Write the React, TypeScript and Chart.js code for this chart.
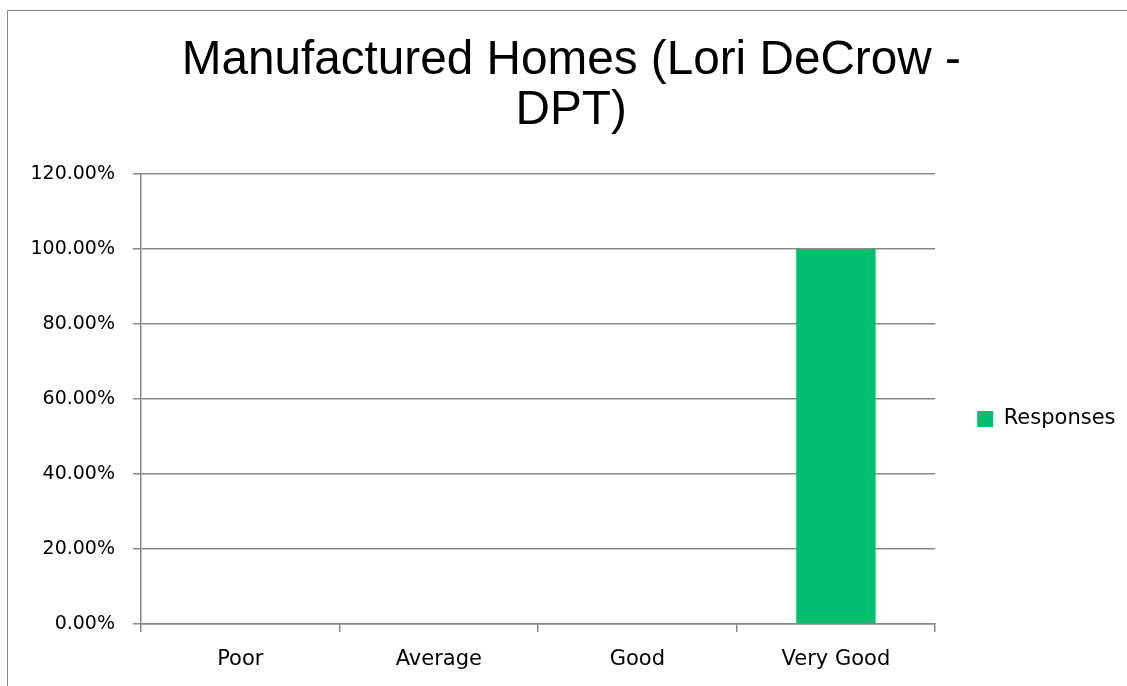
import React, { useEffect, useRef } from "react";
import { Chart, registerables } from "chart.js";

Chart.register(...registerables);

const titleLines = ["Manufactured Homes (Lori DeCrow -", "DPT)"];
const categories = ["Poor", "Average", "Good", "Very Good"];
const responses = [0, 0, 0, 1];
const seriesName = "Responses";
const yMin = 0;
const yMax = 1.2;
const yStep = 0.2;

const GRAY = "#888888";
const GREEN = "#02BF6F";

const borderPlugin = {
  id: "outerBorder",
  beforeDraw(chart: any) {
    const ctx = chart.ctx;
    ctx.save();
    ctx.fillStyle = "#ffffff";
    ctx.fillRect(0, 0, chart.width, chart.height);
    ctx.strokeStyle = GRAY;
    ctx.lineWidth = 1;
    ctx.strokeRect(7.5, 10.5, 1200, 800);
    ctx.restore();
  },
};

export default function App() {
  const ref = useRef<HTMLCanvasElement | null>(null);

  useEffect(() => {
    if (!ref.current) return;
    const chart = new Chart(ref.current, {
      type: "bar",
      data: {
        labels: categories,
        datasets: [
          {
            label: seriesName,
            data: responses,
            backgroundColor: GREEN,
            borderWidth: 0,
            barPercentage: 0.4,
            categoryPercentage: 1,
          },
        ],
      },
      options: {
        responsive: false,
        animation: false,
        devicePixelRatio: 1,
        layout: { padding: { left: 17, right: 1.5, top: 0, bottom: 0 } },
        plugins: {
          title: {
            display: true,
            text: titleLines,
            color: "#000000",
            font: { family: "'Liberation Sans', Arial, sans-serif", size: 47.7, weight: "normal", lineHeight: 50 / 47.7 },
            padding: { top: 36, bottom: 38 },
          },
          legend: {
            display: true,
            position: "right",
            align: "center",
            title: {
              display: true,
              text: "",
              font: { size: 10, lineHeight: 1 },
              padding: { top: 142, bottom: 0 },
            },
            labels: {
              boxWidth: 16,
              boxHeight: 16,
              padding: 42,
              color: "#000000",
              font: { family: "'DejaVu Sans', sans-serif", size: 21 },
            },
          },
          tooltip: { enabled: false },
        },
        scales: {
          x: {
            afterFit(scale: any) {
              scale.height = 62;
            },
            grid: {
              display: true,
              drawOnChartArea: false,
              drawTicks: true,
              tickLength: 8,
              color: GRAY,
              lineWidth: 1.5,
              offset: true,
            },
            border: { display: true, color: GRAY, width: 1.5 },
            ticks: {
              color: "#000000",
              padding: 15,
              maxRotation: 0,
              font: { family: "'DejaVu Sans', sans-serif", size: 21 },
            },
          },
          y: {
            min: yMin,
            max: yMax,
            afterFit(scale: any) {
              scale.width = 124;
            },
            grid: {
              display: true,
              drawTicks: true,
              tickLength: 8,
              color: GRAY,
              lineWidth: 1.5,
            },
            border: { display: true, color: GRAY, width: 1.5 },
            ticks: {
              stepSize: yStep,
              color: "#000000",
              padding: 18,
              font: { family: "'DejaVu Sans', sans-serif", size: 19 },
              callback: (v: any) => (Number(v) * 100).toFixed(2) + "%",
            },
          },
        },
      },
      plugins: [borderPlugin],
    });
    return () => chart.destroy();
  }, []);

  return (
    <div style={{ position: "absolute", left: 0, top: 0, width: 1127, height: 686 }}>
      <canvas ref={ref} width={1127} height={686} style={{ display: "block", width: 1127, height: 686 }} />
    </div>
  );
}
